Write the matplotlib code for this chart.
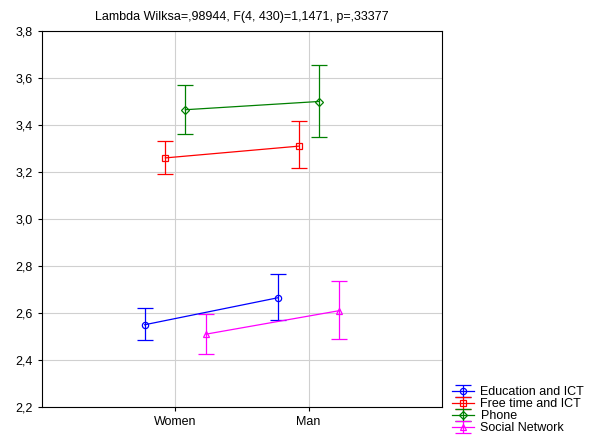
import matplotlib
matplotlib.use("Agg")
import matplotlib.pyplot as plt
import numpy as np

plt.rcParams["font.family"] = ["Liberation Sans", "DejaVu Sans"]

categories = ["Women", "Man"]
series = ["Education and ICT", "Free time and ICT", "Phone", "Social Network"]
means = [[2.55, 2.665], [3.26, 3.31], [3.465, 3.50], [2.51, 2.61]]
lower = [[2.485, 2.57], [3.19, 3.215], [3.36, 3.35], [2.425, 2.49]]
upper = [[2.62, 2.765], [3.33, 3.415], [3.57, 3.655], [2.595, 2.735]]
colors = ["#0000ff", "#ff0000", "#008000", "#ff00ff"]
markers = ["o", "s", "D", "^"]
offsets = [-0.23, -0.075, 0.075, 0.23]

fig = plt.figure(figsize=(5.89, 4.38), dpi=100)
ax = fig.add_axes([42/589, 31/438, 400/589, 376/438])
x = np.arange(len(categories))
for i, s in enumerate(series):
    m = np.array(means[i]); lo = np.array(lower[i]); hi = np.array(upper[i])
    ax.errorbar(x + offsets[i], m, yerr=[m - lo, hi - m], color=colors[i], marker=markers[i],
                markersize=4.5, markerfacecolor="none", capsize=6, lw=0.9, elinewidth=0.9,
                markeredgewidth=0.9, label=s)
ax.set_xlim(-1, 2)
ax.set_ylim(2.2, 3.8)
ax.set_xticks(x)
ax.set_xticklabels(categories)
ax.set_yticks(np.arange(2.2, 3.81, 0.2))
ax.set_yticklabels([f"{v:.1f}".replace(".", ",") for v in np.arange(2.2, 3.81, 0.2)])
ax.grid(True, color="#d0d0d0", lw=0.8)
ax.set_axisbelow(True)
ax.tick_params(labelsize=9, length=3)
ax.set_title("Lambda Wilksa=,98944, F(4, 430)=1,1471, p=,33377", fontsize=9, pad=8)
fig.legend(loc="lower left", bbox_to_anchor=(448/589, 0), frameon=False, fontsize=9,
           handlelength=1.8, labelspacing=0.0, borderaxespad=0.1, handletextpad=0.5,
           borderpad=0.2)
fig.savefig("out.png", dpi=100)
